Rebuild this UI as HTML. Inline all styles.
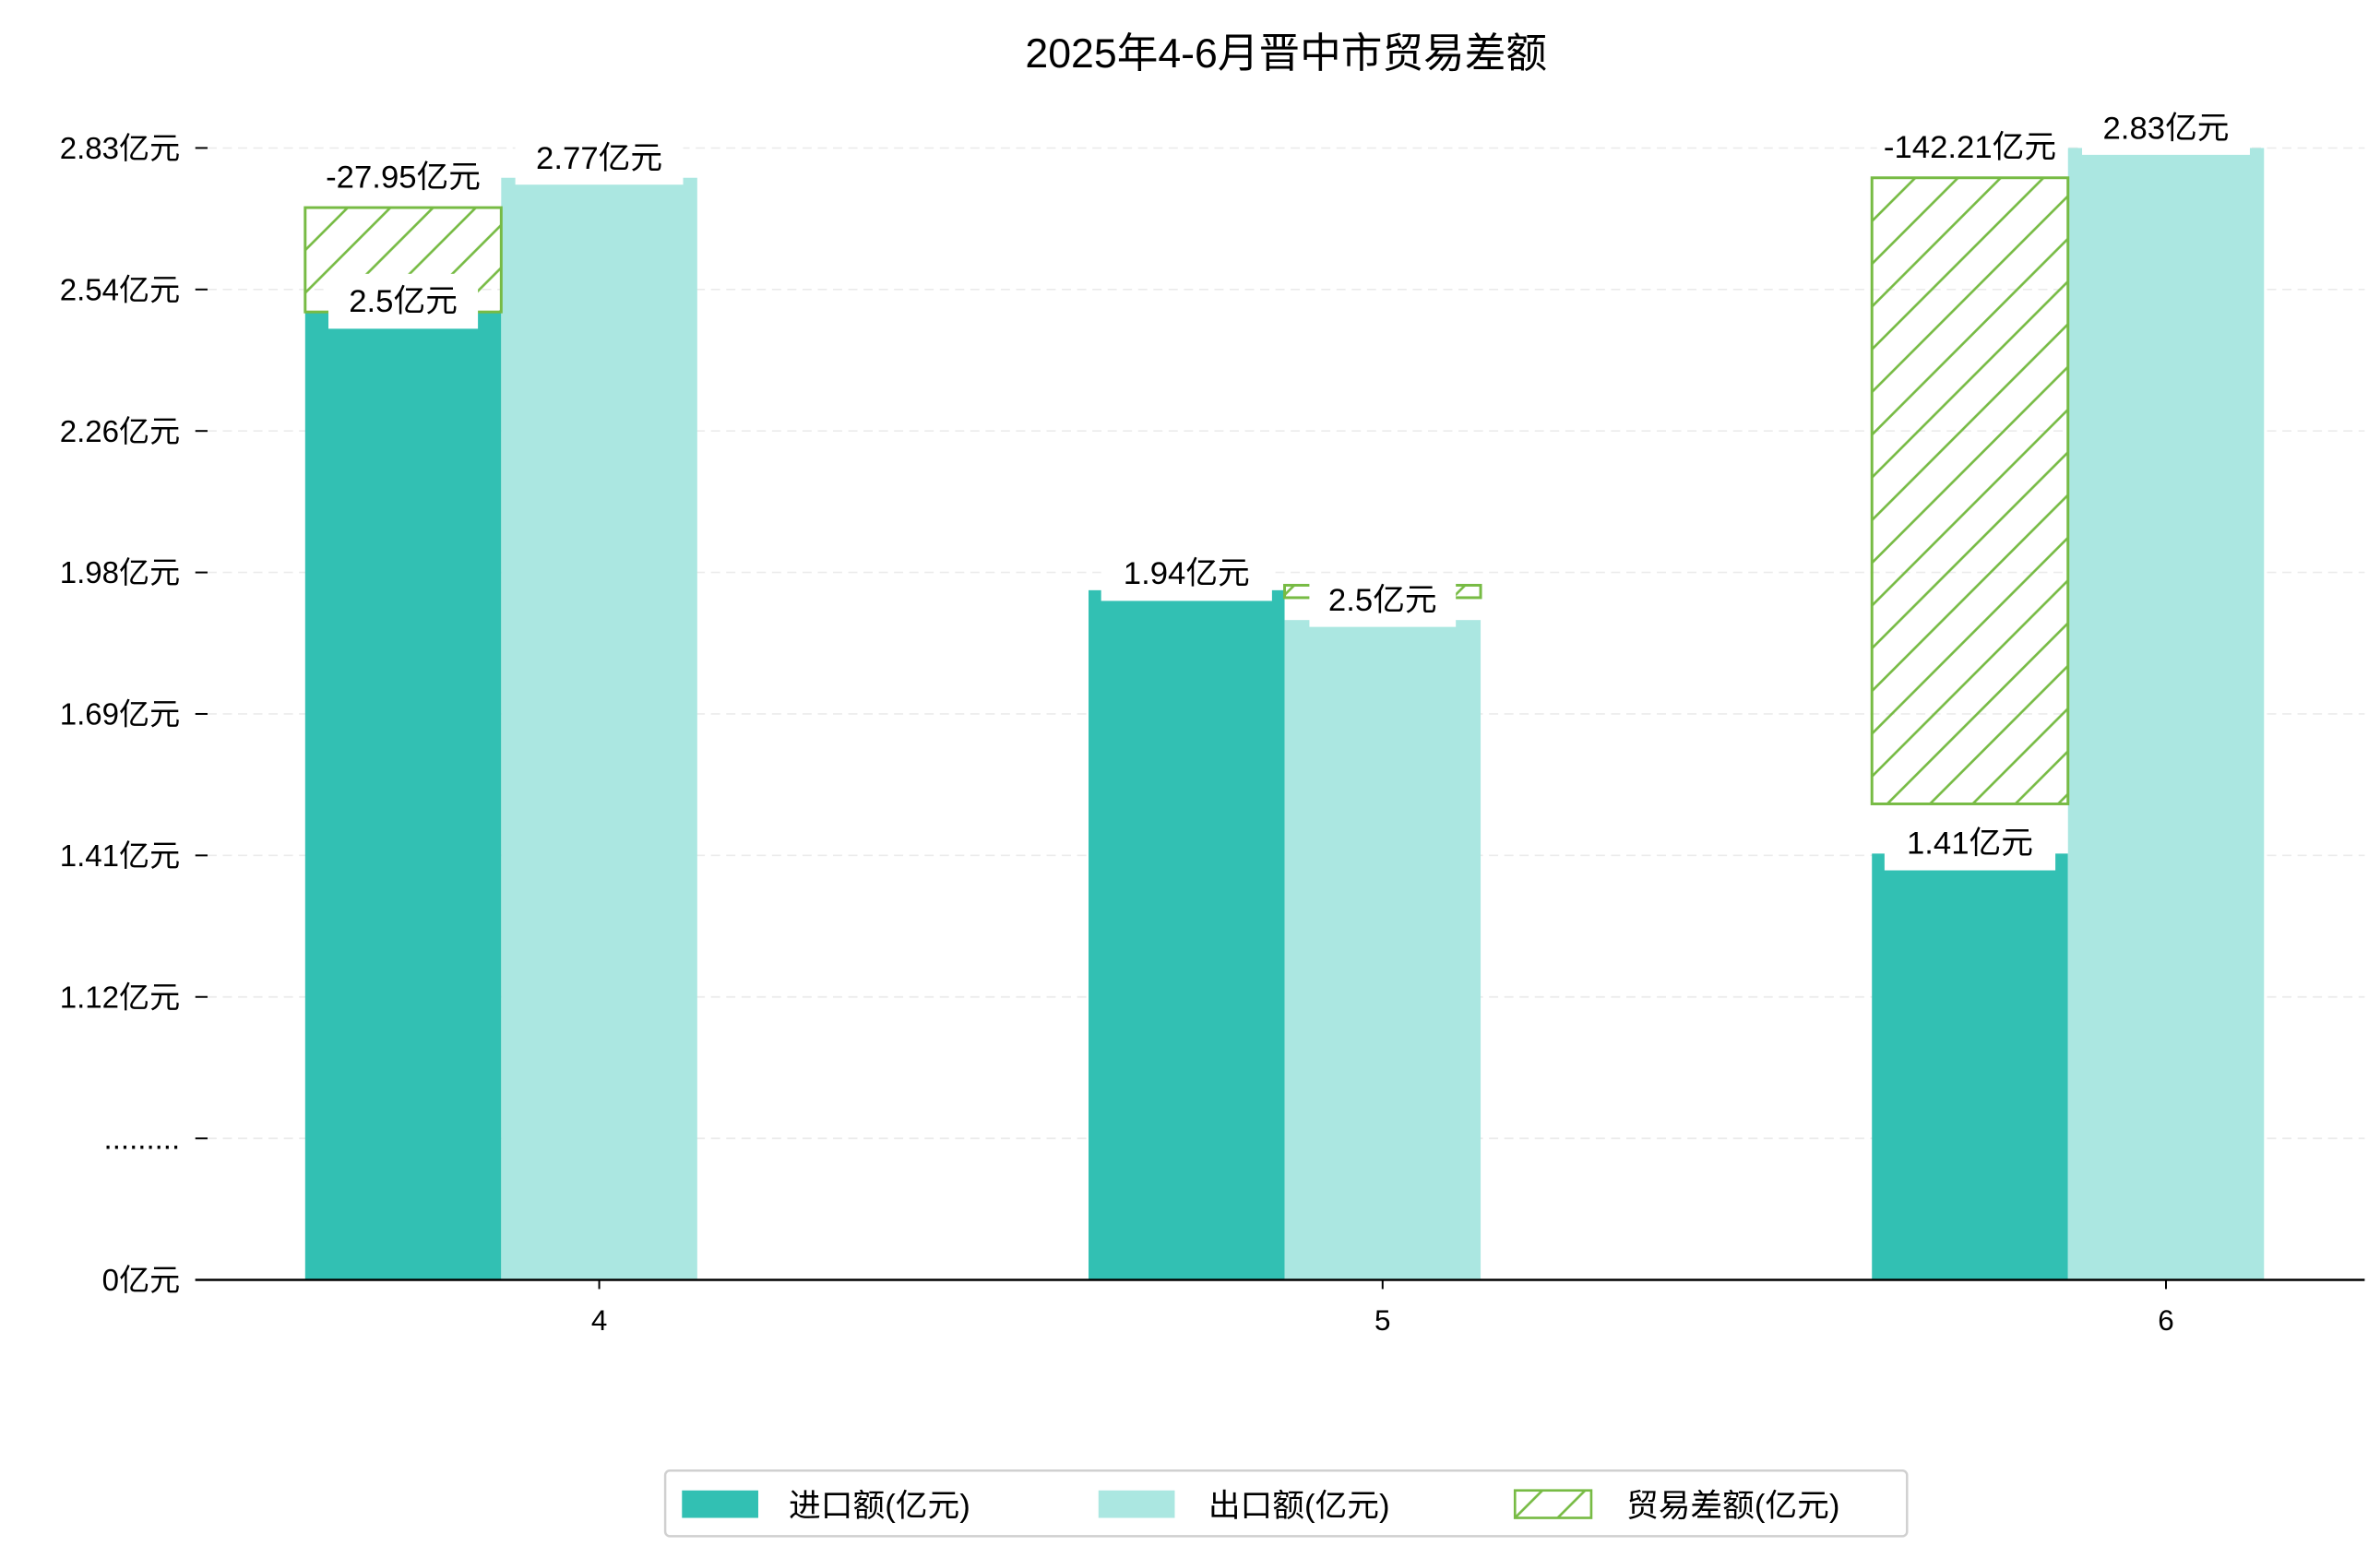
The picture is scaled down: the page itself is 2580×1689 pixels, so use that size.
<!DOCTYPE html>
<html><head><meta charset="utf-8"><style>
html,body{margin:0;padding:0;background:#fff;}
svg{display:block;font-family:"Liberation Sans","Noto Sans CJK SC",sans-serif;}
</style></head><body>
<svg id="chart" width="2580" height="1689" viewBox="0 0 1560 1021.3" xmlns="http://www.w3.org/2000/svg">
<defs>
<pattern id="hatch" patternUnits="userSpaceOnUse" width="28" height="28">
<path d="M-7,7 L7,-7 M0,28 L28,0 M21,35 L35,21" stroke="#77bb44" stroke-width="1.6"/>
</pattern>
</defs>
<text x="843" y="44" font-size="27" text-anchor="middle" fill="#000">2025年4-6月晋中市贸易差额</text>
<g id="grid"></g>
<g id="bars"></g>
<g id="labels"></g>
<g id="axes"></g>
<g>
<rect x="436" y="964" width="814" height="43" rx="3" fill="#fff" stroke="#d0d0d0" stroke-width="1.5"/>
<rect x="447" y="977" width="50" height="18" fill="#32c0b3"/>
<text x="517" y="994" font-size="21">进口额(亿元)</text>
<rect x="720" y="977" width="50" height="18" fill="#abe7e1"/>
<text x="792" y="994" font-size="21">出口额(亿元)</text>
<rect x="993" y="977" width="50" height="18" fill="url(#hatch)" stroke="#77bb44" stroke-width="1.6"/>
<text x="1066" y="994" font-size="21">贸易差额(亿元)</text>
</g>
</svg>
<script>
const categories = ['4','5','6'];
const importValues = [2.5, 1.94, 1.41];
const exportValues = [2.77, 1.88, 2.83];
const balanceLow = [2.5, 1.925, 1.51];
const balanceHigh = [2.71, 1.95, 2.77];
const balanceSlot = [0, 1, 0];
const tickLabels = ['0亿元','.........','1.12亿元','1.41亿元','1.69亿元','1.98亿元','2.26亿元','2.54亿元','2.83亿元'];
const importLabels = ['2.5亿元','1.94亿元','1.41亿元'];
const exportLabels = ['2.77亿元','2.5亿元','2.83亿元'];
const balanceLabels = ['-27.95亿元','','-142.21亿元'];

const NS='http://www.w3.org/2000/svg';
const baseY=839, topY=97, step=(baseY-topY)/8;
function y(v){
  if(v<=0) return baseY;
  if(v>=1.12){ return 654 - (v-1.12)*(654-topY)/(2.83-1.12); }
  return baseY - v/1.12*(baseY-654);
}
const groupStart=200, groupGap=513.5, barW=128.5;
function xBar(i,slot){ return groupStart + i*groupGap + slot*barW; }
function xCenter(i){ return groupStart + i*groupGap + barW*1.5; }
function mk(tag,attrs,parent){const e=document.createElementNS(NS,tag);for(const k in attrs)e.setAttribute(k,attrs[k]);parent.appendChild(e);return e;}
const grid=document.getElementById('grid'), bars=document.getElementById('bars'), labels=document.getElementById('labels'), axes=document.getElementById('axes');

tickLabels.forEach((t,k)=>{
  const yy = baseY - k*step;
  if(k>0){
    const g=mk('line',{x1:136,x2:1550,y1:yy,y2:yy,stroke:'#ebebeb','stroke-width':1,'stroke-dasharray':'6,4'},grid);
    
    
  }
  const tk=mk('line',{x1:128,x2:136,y1:yy,y2:yy,stroke:'#000','stroke-width':1.2},axes);
  
  
  const tx=mk('text',{x:118,y:yy+7,'font-size':20,'text-anchor':'end',fill:'#000'},axes);
  tx.textContent=t;
  
  
});
const ax=mk('line',{x1:128,x2:1550,y1:baseY,y2:baseY,stroke:'#000','stroke-width':1.5},axes);



function labelBox(txt,cx,cy,w,h){
  const r=mk('rect',{x:cx-w/2,y:cy-h/2,width:w,height:h,fill:'#fff'},labels);
  
  
  const t=mk('text',{x:cx,y:cy+7,'font-size':21,'text-anchor':'middle',fill:'#000'},labels);
  t.textContent=txt;
  
  
}

categories.forEach((c,i)=>{
  const bi=mk('rect',{x:xBar(i,0),y:y(importValues[i]),width:barW,height:baseY-y(importValues[i]),fill:'#32c0b3'},bars);
  
  
  const be=mk('rect',{x:xBar(i,1),y:y(exportValues[i]),width:barW,height:baseY-y(exportValues[i]),fill:'#abe7e1'},bars);
  
  
  const s=balanceSlot[i];
  const bb=mk('rect',{x:xBar(i,s),y:y(balanceHigh[i]),width:barW,height:y(balanceLow[i])-y(balanceHigh[i]),fill:'url(#hatch)',stroke:'#77bb44','stroke-width':1.8},bars);
  
  
  const xc=xCenter(i);
  const xt=mk('line',{x1:xc,x2:xc,y1:baseY,y2:baseY+6,stroke:'#000','stroke-width':1.2},axes);
  
  
  const xl=mk('text',{x:xc,y:baseY+33,'font-size':19,'text-anchor':'middle',fill:'#000'},axes);
  xl.textContent=c;
  
  
});

categories.forEach((c,i)=>{
  const xi=xBar(i,0)+barW/2, xe=xBar(i,1)+barW/2;
  if(balanceLabels[i]){
    const yy=y(balanceHigh[i])-20;
    labelBox(balanceLabels[i],xBar(i,balanceSlot[i])+barW/2,yy,balanceLabels[i].length*12+14,34);
  }
  labelBox(importLabels[i],xi,y(importValues[i])-7+(i===1?-4:0),importLabels[i].length*14+28,36);
  labelBox(exportLabels[i],xe,y(exportValues[i])-13,exportLabels[i].length*14+26,35);
});
</script>
</body></html>
